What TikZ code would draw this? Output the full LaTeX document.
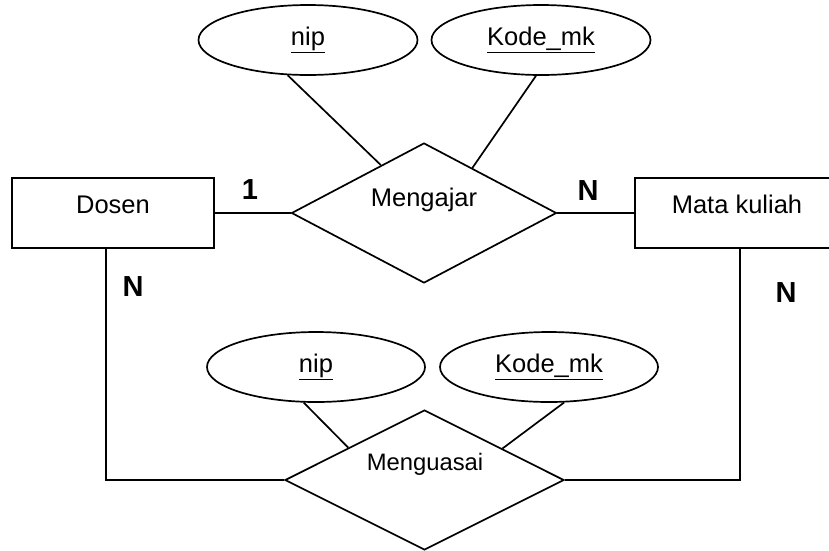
\documentclass[tikz,border=0pt]{standalone}
\usepackage{fontspec}
\setmainfont{Liberation Sans}
\usetikzlibrary{shapes.geometric}
\begin{document}
\begin{tikzpicture}[x=1pt,y=-1pt,
  line width=1.7pt,
  entity/.style={draw, rectangle, inner sep=0pt, minimum width=202pt, minimum height=70pt},
  relation/.style={draw, diamond, inner sep=0pt},
  attrib/.style={draw, ellipse, inner sep=0pt, minimum width=219pt, minimum height=70pt,
    font=\fontsize{25.5}{30}\selectfont},
  txt/.style={inner sep=0pt, font=\fontsize{25.5}{30}\selectfont},
  card/.style={inner sep=0pt, font=\fontsize{29}{33}\selectfont\bfseries}]
\useasboundingbox (0,0) rectangle (829,550);
\clip (0,0) rectangle (829,550);

% entities
\node[entity] (dosen) at (113,213) {};
\node[entity, minimum width=230pt] (matkul) at (750,213) {};
\node[txt] (dosenT) at (113,205) {Dosen};
\node[txt] (matkulT) at (737,204) {Mata kuliah};

% relationships
\node[relation, minimum width=265pt, minimum height=140pt] (mengajar) at (424,213) {};
\node[relation, minimum width=279pt, minimum height=140pt] (menguasai) at (424.5,480) {};
\node[txt] (mengajarT) at (424,200) {Mengajar};
\node[txt, font=\fontsize{23.8}{28}\selectfont] (menguasaiT) at (425,464) {Menguasai};

% key attributes
\node[attrib] (nipA) at (308,40) {\underline{nip}};
\node[attrib] (kodeA) at (541,40) {\underline{Kode\_mk}};
\node[attrib, minimum width=218pt] (nipB) at (316,367) {\underline{nip}};
\node[attrib, minimum width=218pt] (kodeB) at (549,367) {\underline{Kode\_mk}};

% cardinalities
\node[card] (c1) at (250,190) {1};
\node[card] (c2) at (588,191) {N};
\node[card] (c3) at (133,287) {N};
\node[card] (c4) at (786,293) {N};

% connectors
\draw (dosen.east) -- (mengajar.west);
\draw (mengajar.east) -- (matkul.west);
\draw (nipA.240) -- (mengajar.132);
\draw (kodeA.262) -- (mengajar.43);
\draw (nipB.251) -- (menguasai.157);
\draw (kodeB.293) -- (menguasai.22);
\draw ([xshift=-7pt]dosen.south) |- (menguasai.west);
\draw ([xshift=-10pt]matkul.south) |- (menguasai.east);
\end{tikzpicture}
\end{document}
